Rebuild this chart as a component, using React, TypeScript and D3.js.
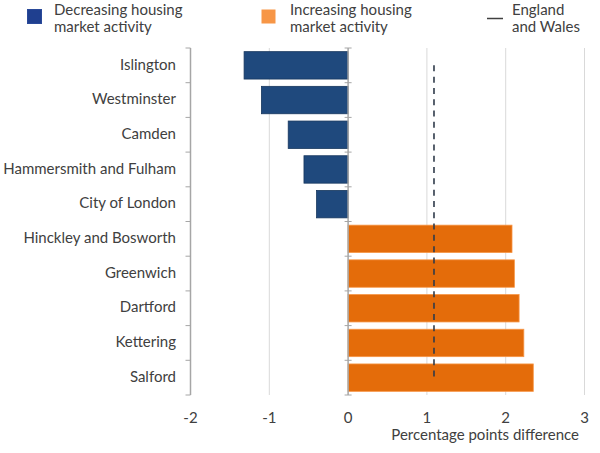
import React from "react";
import * as d3 from "d3";

const categories = [
  "Islington",
  "Westminster",
  "Camden",
  "Hammersmith and Fulham",
  "City of London",
  "Hinckley and Bosworth",
  "Greenwich",
  "Dartford",
  "Kettering",
  "Salford",
];
const values = [-1.32, -1.1, -0.76, -0.56, -0.4, 2.08, 2.11, 2.17, 2.23, 2.35];
const englandWales = 1.09;
const xTicks = [-2, -1, 0, 1, 2, 3];
const legendItems = [
  { key: "dec", lines: ["Decreasing housing", "market activity"] },
  { key: "inc", lines: ["Increasing housing", "market activity"] },
  { key: "ew", lines: ["England", "and Wales"] },
];

const W = 600;
const H = 453;
const FONT = "Lato, 'Open Sans', sans-serif";
const TXT = "#404040";

export default function App() {
  const x = d3.scaleLinear().domain([-2, 3]).range([190.5, 584.5]);
  const y = d3
    .scaleBand<string>()
    .domain(categories)
    .range([48, 395])
    .paddingInner(0.21)
    .paddingOuter(0.105);
  const step = y.step();
  const boundaries = d3.range(categories.length + 1).map((i) => 48 + i * step);
  const yFirst = (y(categories[0]) as number) + y.bandwidth() / 2;
  const yLast = (y(categories[categories.length - 1]) as number) + y.bandwidth() / 2;
  const legendTextX = [54, 290, 512];

  return (
    <svg
      width={W}
      height={H}
      style={{ position: "absolute", left: 0, top: 0, background: "#fff" }}
      fontFamily={FONT}
    >
      {/* legend */}
      <rect x={27.5} y={9.5} width={14} height={14} fill="#1F3F8F" stroke="#2a4a9a" />
      <rect x={261.5} y={9.5} width={14} height={14} fill="#F79646" />
      <line x1={487} x2={503} y1={18.5} y2={18.5} stroke="#404040" strokeWidth={1.5} />
      {legendItems.map((it, i) => (
        <text key={it.key} x={legendTextX[i]} y={15} fontSize={15} fill={TXT}>
          {it.lines.map((l, j) => (
            <tspan key={j} x={legendTextX[i]} dy={j === 0 ? 0 : 17}>
              {l}
            </tspan>
          ))}
        </text>
      ))}

      {/* gridlines */}
      {xTicks
        .filter((t) => t !== -2 && t !== 0)
        .map((t) => (
          <line key={t} x1={x(t)} x2={x(t)} y1={48} y2={395} stroke="#d9d9d9" strokeWidth={1} />
        ))}

      {/* left axis */}
      <line x1={x(-2)} x2={x(-2)} y1={48} y2={395} stroke="#a6a6a6" strokeWidth={1.5} />
      {boundaries.map((b, i) => (
        <line key={i} x1={x(-2) - 5} x2={x(-2)} y1={b} y2={b} stroke="#a6a6a6" strokeWidth={1} />
      ))}

      {/* bars */}
      {categories.map((c, i) => {
        const v = values[i];
        const neg = v < 0;
        return (
          <rect
            key={c}
            x={x(Math.min(0, v))}
            y={y(c)}
            width={Math.abs(x(v) - x(0))}
            height={y.bandwidth()}
            fill={neg ? "#1F497D" : "#E46C0A"}
            stroke={neg ? "#17375E" : "#F79646"}
            strokeWidth={0.8}
          />
        );
      })}

      {/* zero axis */}
      <line x1={x(0)} x2={x(0)} y1={48} y2={395} stroke="#a6a6a6" strokeWidth={1.5} />
      {boundaries.map((b, i) => (
        <line key={i} x1={x(0) - 3.5} x2={x(0) + 3.5} y1={b} y2={b} stroke="#a6a6a6" strokeWidth={1} />
      ))}

      {/* England and Wales line */}
      <line
        x1={x(englandWales)}
        x2={x(englandWales)}
        y1={yFirst}
        y2={yLast}
        stroke="#2f3b4a"
        strokeWidth={1.6}
        strokeDasharray="6 5.3"
      />

      {/* category labels */}
      {categories.map((c) => (
        <text
          key={c}
          x={176}
          y={(y(c) as number) + y.bandwidth() / 2}
          dy="0.28em"
          textAnchor="end"
          fontSize={15}
          fill={TXT}
        >
          {c}
        </text>
      ))}

      {/* x tick labels */}
      {xTicks.map((t) => (
        <text key={t} x={x(t)} y={423} textAnchor="middle" fontSize={15} fill={TXT}>
          {t < 0 ? `-${Math.abs(t)}` : t}
        </text>
      ))}
      <text x={579} y={440} textAnchor="end" fontSize={15} fill={TXT}>
        Percentage points difference
      </text>
    </svg>
  );
}
